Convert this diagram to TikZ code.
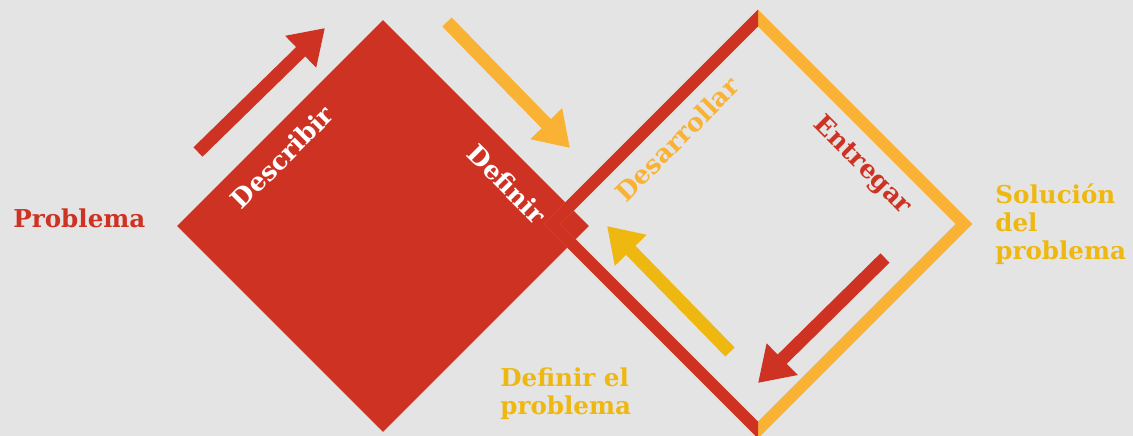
\documentclass[tikz,border=0pt]{standalone}
\usepackage{fontspec}
\setmainfont{DejaVu Serif}
\usetikzlibrary{positioning,arrows.meta,shapes.geometric}
\definecolor{cred}{HTML}{CE3222}
\definecolor{corange}{HTML}{F9B233}
\definecolor{cyellow}{HTML}{EFB810}
\definecolor{cbg}{HTML}{E4E4E4}
\tikzset{
  lbl/.style={font=\bfseries\fontsize{14}{16}\selectfont, align=left, inner sep=0pt},
  tag/.style={font=\bfseries\fontsize{14.5}{16}\selectfont, inner sep=0pt},
  bigarrow/.style={line width=0.26cm, -{Triangle[length=0.68cm,width=0.84cm]}},
  rim/.style={line width=0.24cm, line join=miter},
}

\begin{document}
\begin{tikzpicture}[x=0.02cm, y=-0.02cm]
  \fill[cbg] (0,0) rectangle (1133,436);
  \useasboundingbox (0,0) rectangle (1133,436);

  % red square (problem side)
  \node[diamond, fill=cred, inner sep=0pt, outer sep=0pt, minimum size=8.24cm] (prob) at (383,226) {};

  % outlined square (solution side)
  \coordinate (st) at (758,18);
  \coordinate (sr) at (964,224);
  \coordinate (sb) at (758,430);
  \coordinate (sl) at (552,224);
  \draw[rim, corange] (st) -- (sr) -- (sb) -- (sl) -- cycle;
  \begin{scope}
    \clip (400,-20) rectangle (758,460);
    \draw[rim, cred] (st) -- (sr) -- (sb) -- (sl) -- cycle;
  \end{scope}

  % labels
  \node[lbl, cred, anchor=west] (problema) at (13,218) {Problema};
  \node[lbl, cyellow, anchor=west] (solucion) at (995,224) {Solución\\del\\problema};
  \node[lbl, cyellow, anchor=west] (defprob) at (500,394) {Definir el\\problema};
  \node[tag, white, rotate=45] (describir) at (282,157) {Describir};
  \node[tag, white, rotate=-45] (definir) at (507,184) {Definir};
  \node[tag, corange, rotate=45] (desarrollar) at (677,139) {Desarrollar};
  \node[tag, cred, rotate=-45] (entregar) at (862,166) {Entregar};

  % arrows
  \coordinate (a1) at (198,152); \coordinate (b1) at (325,28);
  \coordinate (a2) at (447,22);  \coordinate (b2) at (570,148);
  \coordinate (a3) at (730,352); \coordinate (b3) at (607,226);
  \coordinate (a4) at (885,258); \coordinate (b4) at (758,383);
  \draw[bigarrow, cred] (a1) -- (b1);
  \draw[bigarrow, corange] (a2) -- (b2);
  \draw[bigarrow, cyellow] (a3) -- (b3);
  \draw[bigarrow, cred] (a4) -- (b4);
\end{tikzpicture}
\end{document}
